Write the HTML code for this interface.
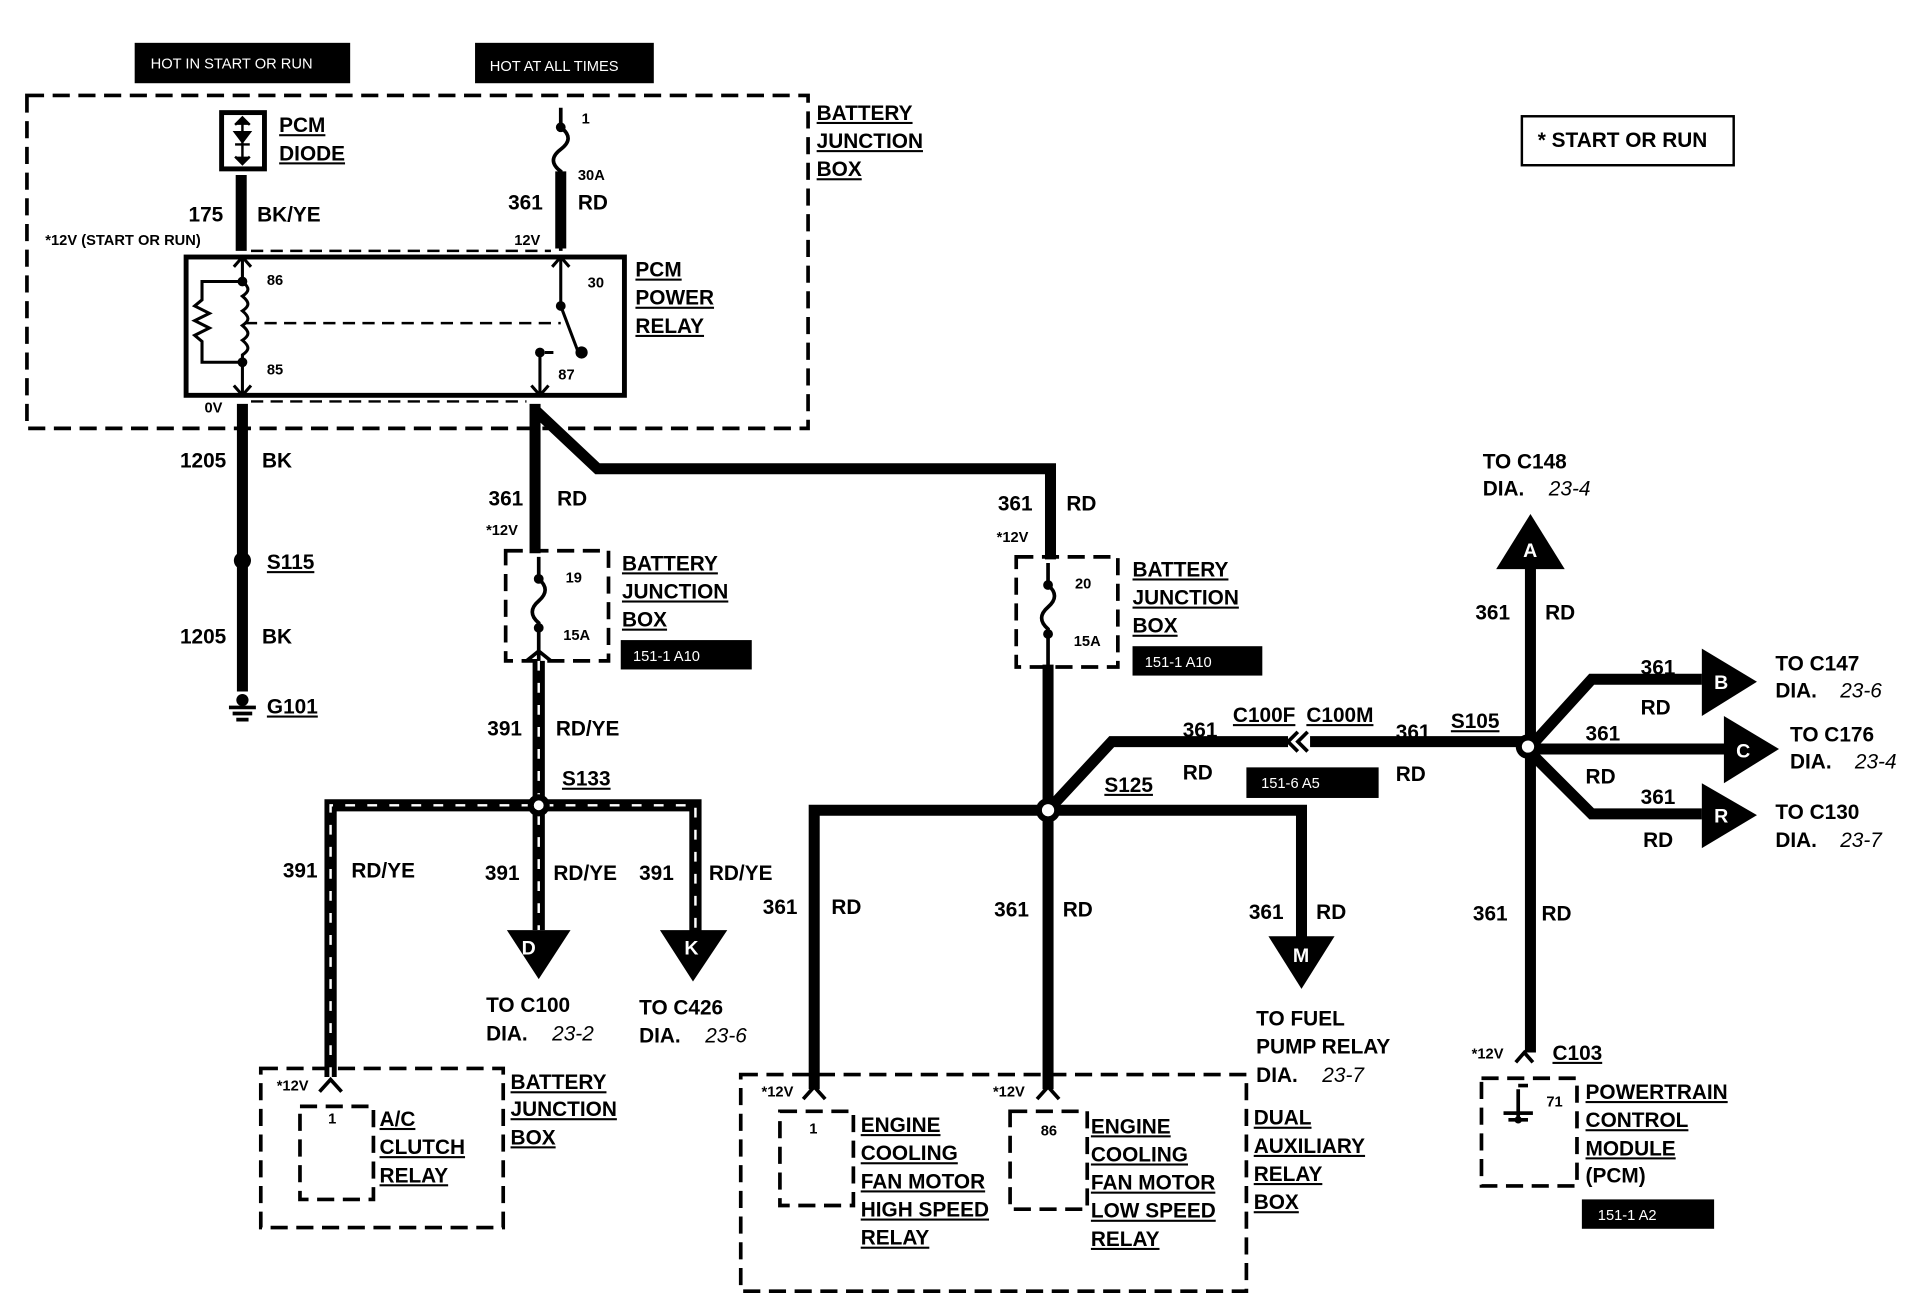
<!DOCTYPE html>
<html><head><meta charset="utf-8"><style>
html,body{margin:0;padding:0;background:#fff;}
svg{display:block}
text{font-family:"Liberation Sans",Arial,sans-serif;font-weight:bold;fill:#000;}
.t{font-size:17px}
.s{font-size:12px}
.i{font-style:italic;font-weight:normal}
.w{fill:#fff;font-size:12px;font-weight:normal}
</style></head><body>
<svg width="1910" height="1312" viewBox="0 0 1560 1072" preserveAspectRatio="none" xmlns="http://www.w3.org/2000/svg">
<rect width="1560" height="1072" fill="#fff"/>
<!-- top labels -->
<rect x="110" y="35" width="176" height="33" fill="#000"/>
<text x="123" y="56" class="w">HOT IN START OR RUN</text>
<rect x="388" y="35" width="146" height="33" fill="#000"/>
<text x="400" y="58" class="w">HOT AT ALL TIMES</text>
<rect x="1243" y="95" width="173" height="40" fill="none" stroke="#000" stroke-width="2"/>
<text x="1256" y="120" class="t">* START OR RUN</text>

<g fill="none" stroke="#000" stroke-width="3" stroke-dasharray="14,7">
<path d="M22,78 H660 V350 H22 Z"/>
<rect x="413" y="450" width="84" height="90"/>
<rect x="830" y="455" width="83" height="90"/>
<rect x="213" y="873" width="198" height="130"/>
<rect x="245" y="904" width="60" height="76"/>
<rect x="605" y="878" width="413" height="177"/>
<rect x="637" y="908" width="60" height="77"/>
<rect x="825" y="908" width="63" height="80"/>
<rect x="1210" y="881" width="78" height="88"/>
</g>
<!-- thin dashed inside BJB -->
<g stroke="#000" stroke-width="2" stroke-dasharray="10,6" fill="none">
<line x1="205" y1="205" x2="450" y2="205"/>
<line x1="205" y1="328" x2="430" y2="328"/>
<line x1="200" y1="264" x2="458" y2="264"/>
</g>
<!-- relay -->
<rect x="152" y="210" width="358" height="113" fill="none" stroke="#000" stroke-width="4"/>
<g stroke="#000" stroke-width="2.5" fill="none">
<path d="M198,210 V230 M198,230 c6,5 6,8 0,12 c6,5 6,8 0,12 c6,5 6,8 0,12 c6,5 6,8 0,12 c6,5 6,8 0,12 V323"/>
<path d="M198,230 H165 V245 l-6,5 l12,6 l-12,6 l12,6 l-12,6 l6,5 V296 H198"/>
<path d="M458,210 V250 L472,287 M441,323 V288 M445,288 H452"/>
<path d="M191,218 l7,-8 l7,8 M191,315 l7,8 l7,-8 M451,218 l7,-8 l7,8 M434,315 l7,8 l7,-8"/>
</g>
<g fill="#000"><circle cx="198" cy="230" r="4"/><circle cx="198" cy="296" r="4"/><circle cx="458" cy="250" r="4"/><circle cx="475" cy="288" r="5"/><circle cx="441" cy="288" r="4"/></g>
<!-- diode -->
<rect x="181" y="92" width="35" height="46" fill="none" stroke="#000" stroke-width="4"/>
<path d="M198,96 V134 M192,108 h12 l-6,8 z M192,118 h12 M192,102 l6,-6 l6,6 M192,128 l6,6 l6,-6" stroke="#000" stroke-width="2" fill="#000"/>
<!-- fuse 30A -->
<path d="M458,88 V104 c8,6 8,12 0,18 c-8,6 -8,12 0,18 V205" stroke="#000" stroke-width="3" fill="none"/>
<circle cx="458" cy="104" r="4"/>
<!-- thick wires -->
<g stroke="#000" stroke-width="9" fill="none" stroke-linejoin="miter">
<line x1="197" y1="143" x2="197" y2="205"/>
<line x1="458" y1="140" x2="458" y2="203"/>
<line x1="198" y1="330" x2="198" y2="565"/>
<line x1="437" y1="330" x2="437" y2="452"/>
<path d="M437,335 L488,383 H858 V457"/>
<line x1="856" y1="543" x2="856" y2="890"/>
<path d="M856,662 H665 V890"/>
<path d="M856,662 H1063 V770"/>
<path d="M856,662 L908,606 H1052"/>
<line x1="1070" y1="606" x2="1245" y2="606"/>
<line x1="1250" y1="460" x2="1250" y2="860"/>
<path d="M1250,610 L1300,555 H1390"/>
<line x1="1250" y1="612" x2="1410" y2="612"/>
<path d="M1250,615 L1300,665 H1390"/>
</g>
<!-- hatched RD/YE -->
<g fill="none">
<path d="M440,540 V760 M270,880 V658 H568 V765" stroke="#000" stroke-width="10"/>
<path d="M440,540 V760 M270,880 V658 H568 V765" stroke="#fff" stroke-width="2" stroke-dasharray="8,10"/>
</g>
<!-- fuses in small boxes -->
<g stroke="#000" stroke-width="3" fill="none">
<path d="M440,455 V473 c7,6 7,12 0,18 c-7,6 -7,12 0,18 V540"/>
<path d="M856,460 V478 c7,6 7,12 0,18 c-7,6 -7,12 0,18 V545"/>
<path d="M187,578 h22 M190,583 h16 M193,588 h10"/>
<path d="M1240,890 V915 M1232,915 h16 M1240,887 h8"/>
</g>
<g fill="#000">
<circle cx="440" cy="473" r="4"/><circle cx="440" cy="513" r="4"/>
<circle cx="856" cy="478" r="4"/><circle cx="856" cy="518" r="4"/>
<circle cx="198" cy="458" r="7"/>
<circle cx="440" cy="658" r="9"/><circle cx="440" cy="658" r="4" fill="#fff"/>
<circle cx="856" cy="662" r="10"/><circle cx="856" cy="662" r="5" fill="#fff"/>
<circle cx="1248" cy="610" r="10"/><circle cx="1248" cy="610" r="5" fill="#fff"/>
<!-- arrows -->
<path d="M414,760 H466 L440,800 Z"/>
<path d="M539,760 H594 L566,802 Z"/>
<path d="M1036,765 H1090 L1063,808 Z"/>
<path d="M1222,465 H1278 L1250,420 Z"/>
<path d="M1390,530 V585 L1435,557 Z"/>
<path d="M1408,585 V640 L1453,612 Z"/>
<path d="M1390,640 V693 L1435,666 Z"/>
<circle cx="198" cy="572" r="5"/>
<rect x="1228" y="908" width="24" height="3"/>
<circle cx="1240" cy="915" r="3"/>
</g>
<g class="t" style="font-size:16px">
<text x="426" y="780" fill="#fff" style="fill:#fff">D</text>
<text x="559" y="780" style="fill:#fff">K</text>
<text x="1056" y="786" style="fill:#fff">M</text>
<text x="1244" y="455" style="fill:#fff">A</text>
<text x="1400" y="563" style="fill:#fff">B</text>
<text x="1418" y="619" style="fill:#fff">C</text>
<text x="1400" y="672" style="fill:#fff">R</text>
</g>
<!-- wire end forks -->
<g stroke="#000" stroke-width="3" fill="none">
<path d="M261,892 l9,-10 l9,10 M656,898 l9,-10 l9,10 M847,898 l9,-10 l9,10 M1238,868 l7,-8 l7,8 M430,540 l10,-8 l10,8"/>
</g>
<!-- C100 connector -->
<path d="M1060,598 l-8,8 l8,8 M1068,598 l-8,8 l8,8" stroke="#000" stroke-width="3" fill="none"/>
<!-- black ref labels -->
<rect x="507" y="523" width="107" height="24" fill="#000"/><text x="517" y="540" class="w">151-1 A10</text>
<rect x="925" y="528" width="106" height="24" fill="#000"/><text x="935" y="545" class="w">151-1 A10</text>
<rect x="1018" y="627" width="108" height="25" fill="#000"/><text x="1030" y="644" class="w">151-6 A5</text>
<rect x="1292" y="980" width="108" height="24" fill="#000"/><text x="1305" y="997" class="w">151-1 A2</text>

<g class="t" text-decoration="underline">
<text x="228" y="108">PCM</text><text x="228" y="131">DIODE</text>
<text x="667" y="98">BATTERY</text><text x="667" y="121">JUNCTION</text><text x="667" y="144">BOX</text>
<text x="519" y="226">PCM</text><text x="519" y="249">POWER</text><text x="519" y="272">RELAY</text>
<text x="508" y="466">BATTERY</text><text x="508" y="489">JUNCTION</text><text x="508" y="512">BOX</text>
<text x="925" y="471">BATTERY</text><text x="925" y="494">JUNCTION</text><text x="925" y="517">BOX</text>
<text x="417" y="890">BATTERY</text><text x="417" y="912">JUNCTION</text><text x="417" y="935">BOX</text>
<text x="310" y="920">A/C</text><text x="310" y="943">CLUTCH</text><text x="310" y="966">RELAY</text>
<text x="703" y="925">ENGINE</text><text x="703" y="948">COOLING</text><text x="703" y="971">FAN MOTOR</text><text x="703" y="994">HIGH SPEED</text><text x="703" y="1017">RELAY</text>
<text x="891" y="926">ENGINE</text><text x="891" y="949">COOLING</text><text x="891" y="972">FAN MOTOR</text><text x="891" y="995">LOW SPEED</text><text x="891" y="1018">RELAY</text>
<text x="1024" y="919">DUAL</text><text x="1024" y="942">AUXILIARY</text><text x="1024" y="965">RELAY</text><text x="1024" y="988">BOX</text>
<text x="1295" y="898">POWERTRAIN</text><text x="1295" y="921">CONTROL</text><text x="1295" y="944">MODULE</text>
<text x="218" y="465">S115</text><text x="218" y="583">G101</text>
<text x="459" y="642">S133</text><text x="902" y="647">S125</text><text x="1185" y="595">S105</text>
<text x="1007" y="590">C100F</text><text x="1067" y="590">C100M</text>
<text x="1268" y="866">C103</text>
</g>
<g class="t">
<text x="1295" y="966">(PCM)</text>
<text x="154" y="181">175</text><text x="210" y="181">BK/YE</text>
<text x="415" y="171">361</text><text x="472" y="171">RD</text>
<text x="147" y="382">1205</text><text x="214" y="382">BK</text>
<text x="147" y="526">1205</text><text x="214" y="526">BK</text>
<text x="399" y="413">361</text><text x="455" y="413">RD</text>
<text x="815" y="417">361</text><text x="871" y="417">RD</text>
<text x="398" y="601">391</text><text x="454" y="601">RD/YE</text>
<text x="231" y="717">391</text><text x="287" y="717">RD/YE</text>
<text x="396" y="719">391</text><text x="452" y="719">RD/YE</text>
<text x="522" y="719">391</text><text x="579" y="719">RD/YE</text>
<text x="623" y="747">361</text><text x="679" y="747">RD</text>
<text x="812" y="749">361</text><text x="868" y="749">RD</text>
<text x="1020" y="751">361</text><text x="1075" y="751">RD</text>
<text x="966" y="602">361</text><text x="966" y="637">RD</text>
<text x="1140" y="604">361</text><text x="1140" y="638">RD</text>
<text x="1205" y="506">361</text><text x="1262" y="506">RD</text>
<text x="1340" y="551">361</text><text x="1340" y="584">RD</text>
<text x="1295" y="605">361</text><text x="1295" y="640">RD</text>
<text x="1340" y="657">361</text><text x="1342" y="692">RD</text>
<text x="1203" y="752">361</text><text x="1259" y="752">RD</text>
<text x="1211" y="383">TO C148</text><text x="1211" y="405">DIA.</text><text x="1265" y="405" class="i">23-4</text>
<text x="1450" y="548">TO C147</text><text x="1450" y="570">DIA.</text><text x="1503" y="570" class="i">23-6</text>
<text x="1462" y="606">TO C176</text><text x="1462" y="628">DIA.</text><text x="1515" y="628" class="i">23-4</text>
<text x="1450" y="669">TO C130</text><text x="1450" y="692">DIA.</text><text x="1503" y="692" class="i">23-7</text>
<text x="397" y="827">TO C100</text><text x="397" y="850">DIA.</text><text x="451" y="850" class="i">23-2</text>
<text x="522" y="829">TO C426</text><text x="522" y="852">DIA.</text><text x="576" y="852" class="i">23-6</text>
<text x="1026" y="838">TO FUEL</text><text x="1026" y="861">PUMP RELAY</text><text x="1026" y="884">DIA.</text><text x="1080" y="884" class="i">23-7</text>
</g>
<g class="s">
<text x="475" y="101">1</text><text x="472" y="147">30A</text><text x="420" y="200">12V</text>
<text x="37" y="200">*12V (START OR RUN)</text>
<text x="218" y="233">86</text><text x="218" y="306">85</text><text x="480" y="235">30</text><text x="456" y="310">87</text>
<text x="167" y="337">0V</text>
<text x="397" y="437">*12V</text><text x="814" y="443">*12V</text>
<text x="462" y="476">19</text><text x="460" y="523">15A</text>
<text x="878" y="481">20</text><text x="877" y="528">15A</text>
<text x="226" y="891">*12V</text><text x="622" y="896">*12V</text><text x="811" y="896">*12V</text><text x="1202" y="865">*12V</text>
<text x="268" y="918">1</text><text x="661" y="926">1</text><text x="850" y="928">86</text><text x="1263" y="904">71</text>
</g>
</svg>
</body></html>
